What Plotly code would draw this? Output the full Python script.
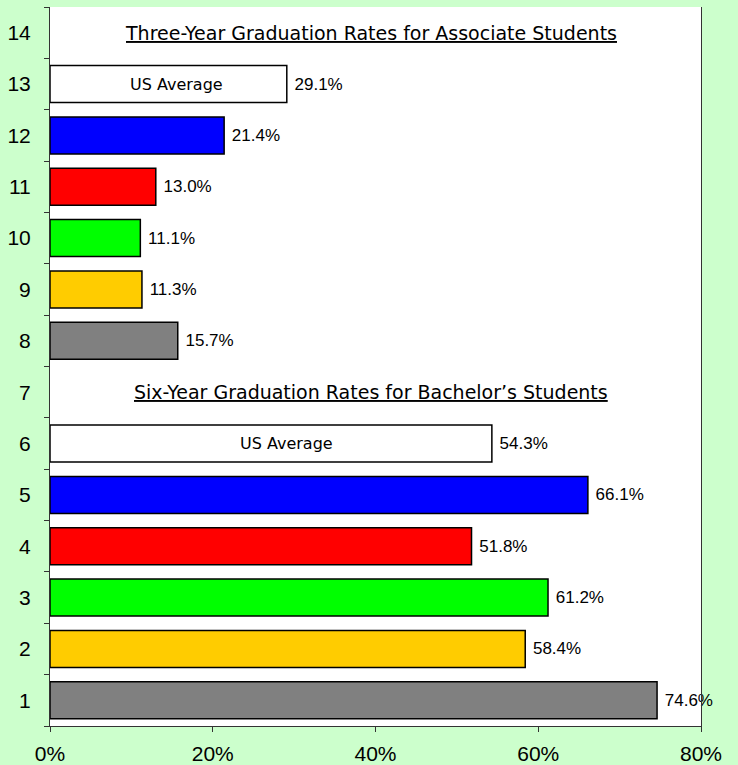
import plotly.graph_objects as go

# Category positions (1 = bottom) and graduation rates (%)
positions = [1, 2, 3, 4, 5, 6, 8, 9, 10, 11, 12, 13]
rates = [74.6, 58.4, 61.2, 51.8, 66.1, 54.3, 15.7, 11.3, 11.1, 13.0, 21.4, 29.1]
bar_colors = ["#808080", "#FFCC00", "#00FF00", "#FF0000", "#0000FF", "#FFFFFF",
              "#808080", "#FFCC00", "#00FF00", "#FF0000", "#0000FF", "#FFFFFF"]
avg_positions = [6, 13]
avg_rates = [54.3, 29.1]

section_titles = ["Three-Year Graduation Rates for Associate Students",
                  "Six-Year Graduation Rates for Bachelor\u2019s Students"]
section_positions = [14, 7]

y_ticks = list(range(1, 15))
x_ticks = [0, 20, 40, 60, 80]
x_labels = ["0%", "20%", "40%", "60%", "80%"]

AXIS = "#333333"

fig = go.Figure(go.Bar(
    x=rates,
    y=positions,
    orientation="h",
    width=0.72,
    marker=dict(color=bar_colors, line=dict(color="black", width=1.5)),
    text=[f"\u00a0{r:.1f}%" for r in rates],
    textposition="outside",
    textfont=dict(family="Liberation Sans, Arial", size=17, color="black"),
    cliponaxis=False,
    hoverinfo="skip",
))

# "US Average" labels inside the white bars (sit a little right of centre)
for p, r in zip(avg_positions, avg_rates):
    fig.add_annotation(x=r * 0.535, y=p, text="US Average", showarrow=False,
                       font=dict(family="DejaVu Sans, Verdana", size=16, color="black"))

# section headings
for t, p in zip(section_titles, section_positions):
    fig.add_annotation(x=39.5, y=p, text=f"<u>{t}</u>", showarrow=False,
                       font=dict(family="DejaVu Sans, Verdana", size=19, color="black"))

fig.update_layout(
    width=738,
    height=765,
    margin=dict(l=50, r=37, t=7, b=39, autoexpand=False),
    paper_bgcolor="#CCFFCC",
    plot_bgcolor="white",
    showlegend=False,
    xaxis=dict(
        range=[0, 80],
        tickvals=x_ticks,
        ticktext=x_labels,
        ticks="outside",
        ticklen=5,
        tickcolor=AXIS,
        ticklabelstandoff=4,
        showgrid=False,
        zeroline=False,
        showline=True,
        linecolor=AXIS,
        linewidth=1,
        automargin=False,
        tickfont=dict(family="Liberation Sans, Arial", size=21, color="black"),
    ),
    yaxis=dict(
        range=[0.5, 14.5],
        tickvals=y_ticks,
        ticks="",
        showgrid=False,
        zeroline=False,
        showline=True,
        mirror=True,
        linecolor=AXIS,
        linewidth=1,
        ticklabelstandoff=14,
        automargin=False,
        tickfont=dict(family="Liberation Sans, Arial", size=21, color="black"),
        minor=dict(ticks="outside", tickmode="array",
                   tickvals=[v - 0.5 for v in y_ticks] + [y_ticks[-1] + 0.5],
                   ticklen=5, tickcolor=AXIS, showgrid=False),
    ),
)

fig.write_html("out.html", config={"displayModeBar": False},
               post_script="document.body.style.margin='0';")
